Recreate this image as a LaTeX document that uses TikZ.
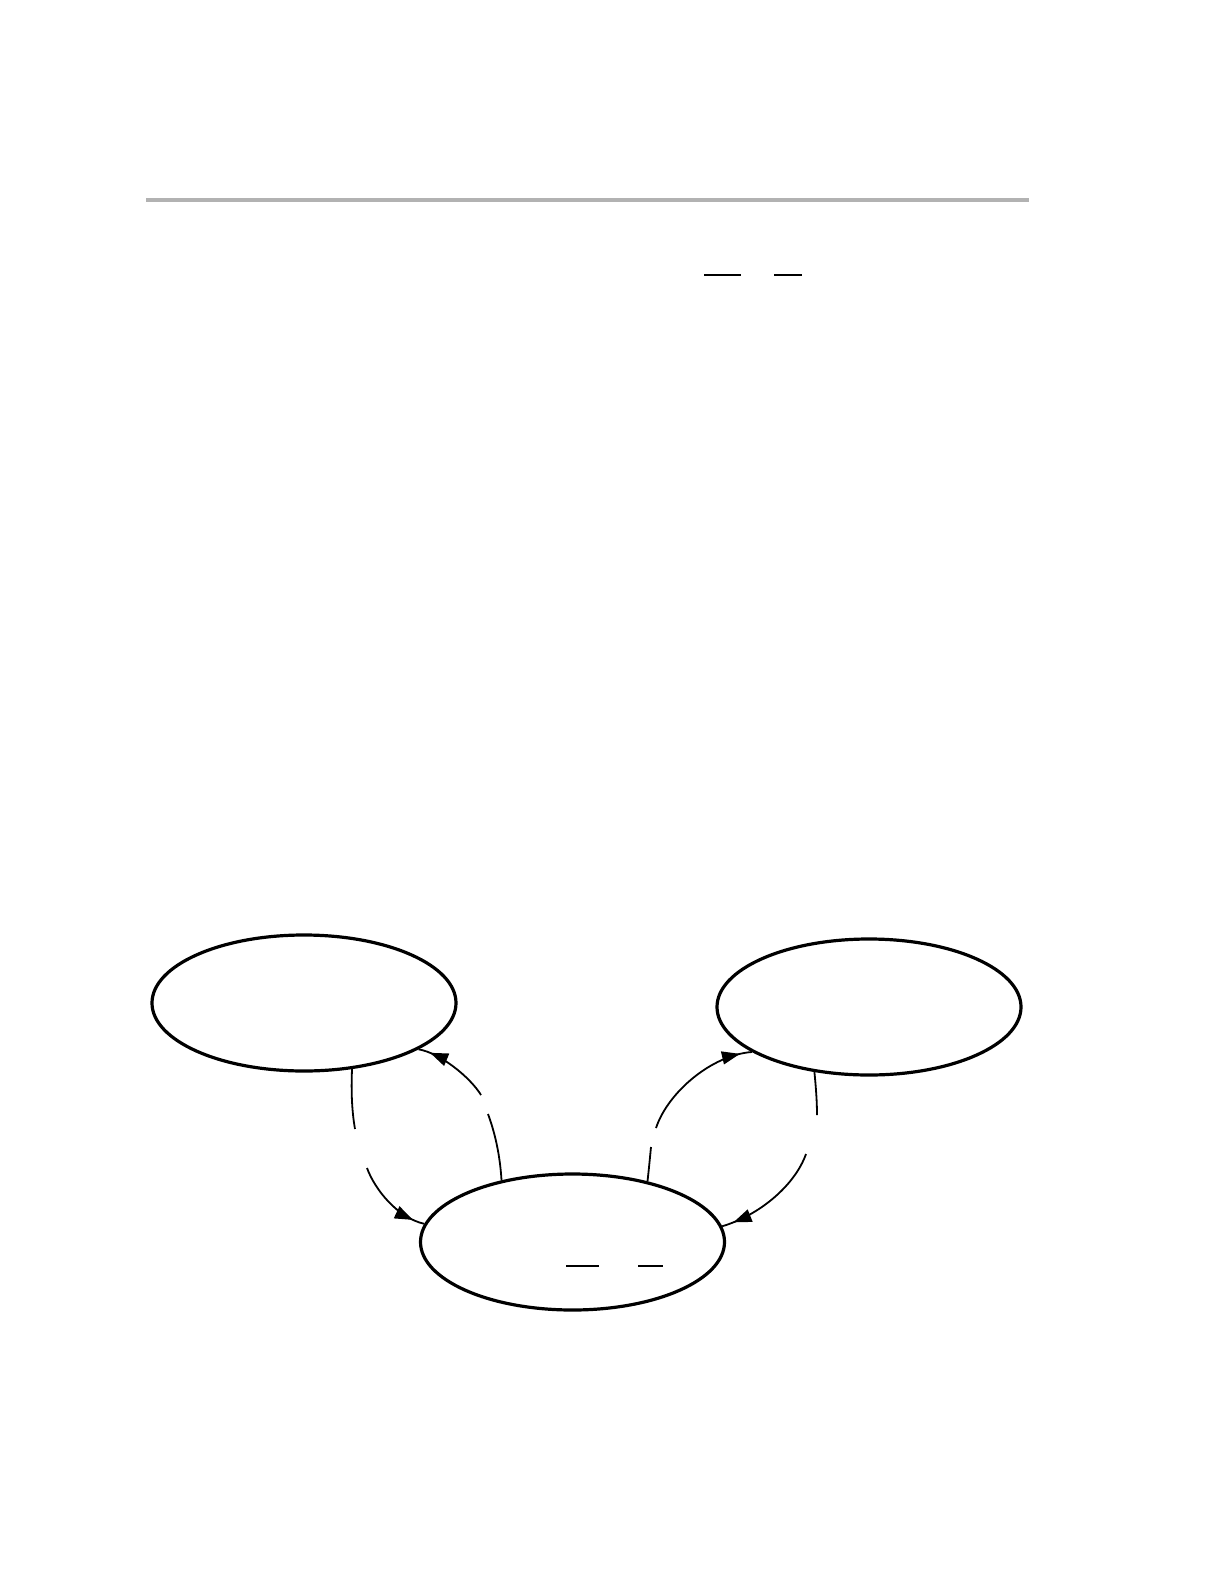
\documentclass[tikz,border=0pt]{standalone}
\usepackage{tikz}
\usetikzlibrary{shapes.geometric,arrows.meta,decorations.markings}

\begin{document}
\begin{tikzpicture}[x=0.5pt, y=-0.5pt,
    statenode/.style={ellipse, draw, line width=1.6pt, minimum width=152pt, minimum height=68pt, inner sep=0pt},
    edgeline/.style={line width=0.9pt},
    arrowed/.style={edgeline, postaction={decorate}, decoration={markings, mark=at position -6pt with {\arrow{Triangle[length=9pt,width=6.5pt]}}}},
    barline/.style={line width=0.65pt}]
    \useasboundingbox (0,0) rectangle (1224,1584);
    % rule
    \draw[gray!60, line width=2pt] (146,200) -- (1029,200);
    \draw[barline] (704,275) -- (741,275);
    \draw[barline] (774,275) -- (802,275);
    % nodes
    \node[statenode] (L) at (304,1003)   {};
    \node[statenode] (R) at (869,1007)   {};
    \node[statenode] (M) at (572.5,1242) {};
    \draw[barline] (566,1266) -- (599,1266);
    \draw[barline] (638,1266) -- (663,1266);
    % gaps in the lines
    \coordinate (la1) at (355,1129);  \coordinate (la2) at (367,1168);
    \coordinate (lb1) at (488,1114);  \coordinate (lb2) at (481,1095);
    \coordinate (ra1) at (651,1147);  \coordinate (ra2) at (656,1128);
    \coordinate (rb1) at (817,1115);  \coordinate (rb2) at (806,1154);
    % lines
    \draw[edgeline] (L.-54) .. controls (351,1092) and (352,1112) .. (la1);
    \draw[arrowed]  (la2) .. controls (375,1190) and (398,1218) .. (M.173);
    \draw[edgeline] (M.139) .. controls (500,1155) and (495,1133) .. (lb1);
    \draw[arrowed]  (lb2) .. controls (470,1077) and (440,1053) .. (L.-22);
    \draw[edgeline] (M.39) .. controls (649,1168) and (650,1157) .. (ra1);
    \draw[arrowed]  (ra2) .. controls (668,1092) and (712,1055) .. (R.-159);
    \draw[edgeline] (R.-130) .. controls (816,1088) and (817,1102) .. (rb1);
    \draw[arrowed]  (rb2) .. controls (795,1185) and (760,1215) .. (M.6);
\end{tikzpicture}
\end{document}
